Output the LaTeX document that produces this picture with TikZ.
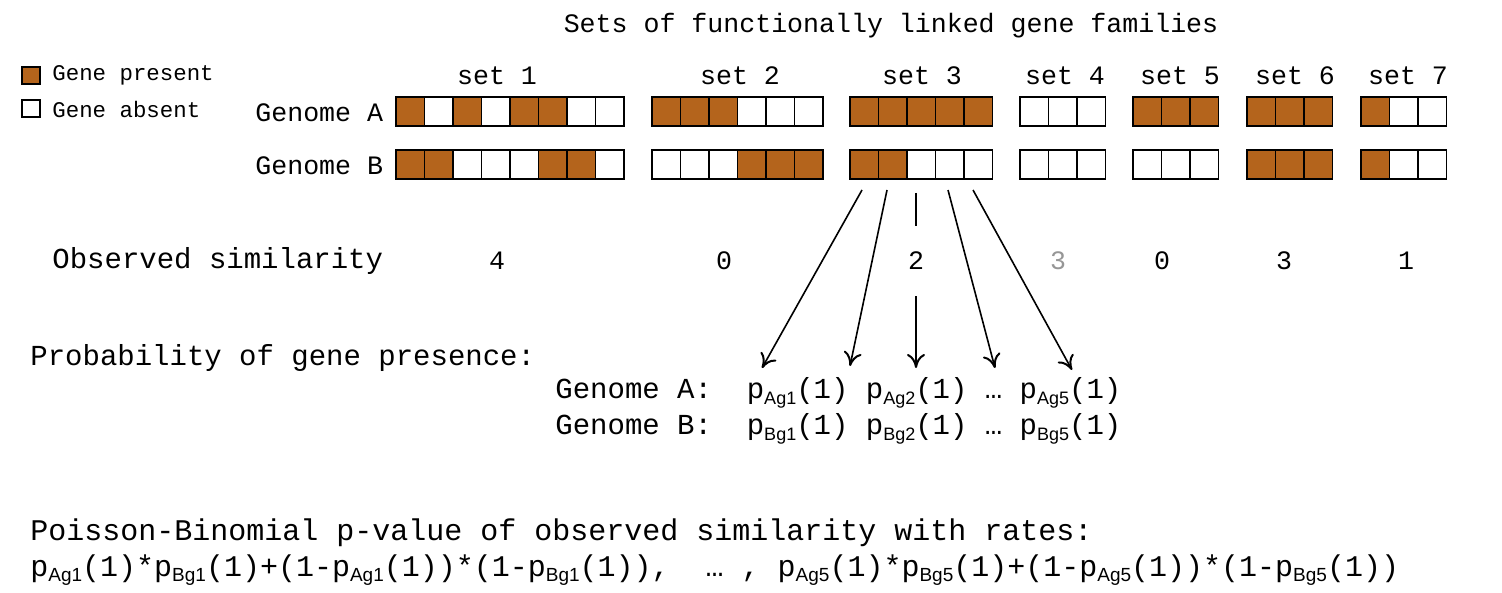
\documentclass[tikz,border=0pt]{standalone}
\usepackage{fontspec}
\setmainfont{Liberation Mono}
\newfontfamily\subf{Liberation Sans}
\usetikzlibrary{arrows.meta}
\definecolor{gene}{RGB}{180,100,28}
\definecolor{simgray}{RGB}{150,150,150}
\newcommand{\pp}[1]{p\raisebox{-0.35ex}{\subf\fontsize{9}{9}\selectfont #1}}
\newcommand{\ppb}[1]{p\raisebox{-0.35ex}{\subf\fontsize{9.5}{9.5}\selectfont #1}}
\newcommand{\genecells}[3]{% x, y, list
  \foreach \v [count=\i] in {#3} {
    \ifnum\v=1 \def\fc{gene}\else\def\fc{white}\fi
    \draw[cell, fill=\fc] ({#1+(\i-1)*28.5},#2) rectangle ++(28.5,29);
  }}
\begin{document}
\begin{tikzpicture}[x=0.5pt,y=-0.5pt,
  cell/.style={draw=black,line width=0.75pt},
  lbl/.style={inner sep=0pt,font=\fontsize{13.3}{15}\selectfont},
  big/.style={inner sep=0pt,anchor=west,font=\fontsize{14.5}{17}\selectfont},
  leg/.style={inner sep=0pt,anchor=west,font=\fontsize{11.2}{13}\selectfont},
  arr/.style={-{To[length=7pt,width=9pt,line width=1pt]},line width=0.8pt}]
\useasboundingbox (0,0) rectangle (1502,593);
\node[lbl] (title) at (891,26) {Sets of functionally linked gene families};
% legend
\draw[cell,fill=gene] (22,67) rectangle (40,84);
\draw[cell,fill=white] (22,100) rectangle (40,117);
\node[leg] (lp) at (52,75) {Gene present};
\node[leg] (la) at (52,109) {Gene absent};
% set labels
\node[lbl] (s1) at (497,76) {set 1};
\node[lbl] (s2) at (740,76) {set 2};
\node[lbl] (s3) at (922,76) {set 3};
\node[lbl] (s4) at (1065,76) {set 4};
\node[lbl] (s5) at (1180,76) {set 5};
\node[lbl] (s6) at (1295,76) {set 6};
\node[lbl] (s7) at (1408,76) {set 7};
\node[lbl,anchor=west] (gA) at (255,113) {Genome A};
\node[lbl,anchor=west] (gB) at (255,166) {Genome B};
% cells
\genecells{396}{97}{1,0,1,0,1,1,0,0}
\genecells{396}{150}{1,1,0,0,0,1,1,0}
\genecells{652}{97}{1,1,1,0,0,0}
\genecells{652}{150}{0,0,0,1,1,1}
\genecells{850}{97}{1,1,1,1,1}
\genecells{850}{150}{1,1,0,0,0}
\genecells{1020}{97}{0,0,0}
\genecells{1020}{150}{0,0,0}
\genecells{1133}{97}{1,1,1}
\genecells{1133}{150}{0,0,0}
\genecells{1247}{97}{1,1,1}
\genecells{1247}{150}{1,1,1}
\genecells{1361}{97}{1,0,0}
\genecells{1361}{150}{1,0,0}
% arrows
\coordinate (a1) at (862,190); \coordinate (b1) at (762,368);
\coordinate (a2) at (887,190); \coordinate (b2) at (850,366);
\coordinate (a3) at (916,193); \coordinate (b3) at (916,368);
\coordinate (a4) at (948,190); \coordinate (b4) at (995,368);
\coordinate (a5) at (973,190); \coordinate (b5) at (1072,370);
\foreach \k in {1,...,5} \draw[arr] (a\k) -- (b\k);
% observed
\node[big] (obs) at (52,261) {Observed similarity};
\node[lbl] (o1) at (497,261) {4};
\node[lbl] (o2) at (724,261) {0};
\node[lbl,fill=white,inner ysep=13pt,inner xsep=2pt] (o3) at (916,261) {2};
\node[lbl,text=simgray] (o4) at (1058,261) {3};
\node[lbl] (o5) at (1162,261) {0};
\node[lbl] (o6) at (1284,261) {3};
\node[lbl] (o7) at (1406,261) {1};
% probability
\node[big] (prob) at (30,358) {Probability of gene presence:};
\node[big] (pa) at (555,393) {Genome A:\ \ \pp{Ag1}(1) \pp{Ag2}(1) … \pp{Ag5}(1)};
\node[big] (pb) at (555,429) {Genome B:\ \ \pp{Bg1}(1) \pp{Bg2}(1) … \pp{Bg5}(1)};
% bottom
\node[inner sep=0pt,anchor=west,font=\fontsize{15}{18}\selectfont] (pois) at (30,533) {Poisson-Binomial p-value of observed similarity with rates:};
\node[inner sep=0pt,anchor=west,font=\fontsize{15}{18}\selectfont] (rates) at (30,570) {\ppb{Ag1}(1)*\ppb{Bg1}(1)+(1-\ppb{Ag1}(1))*(1-\ppb{Bg1}(1)),\ \ … , \ppb{Ag5}(1)*\ppb{Bg5}(1)+(1-\ppb{Ag5}(1))*(1-\ppb{Bg5}(1))};
\end{tikzpicture}
\end{document}
